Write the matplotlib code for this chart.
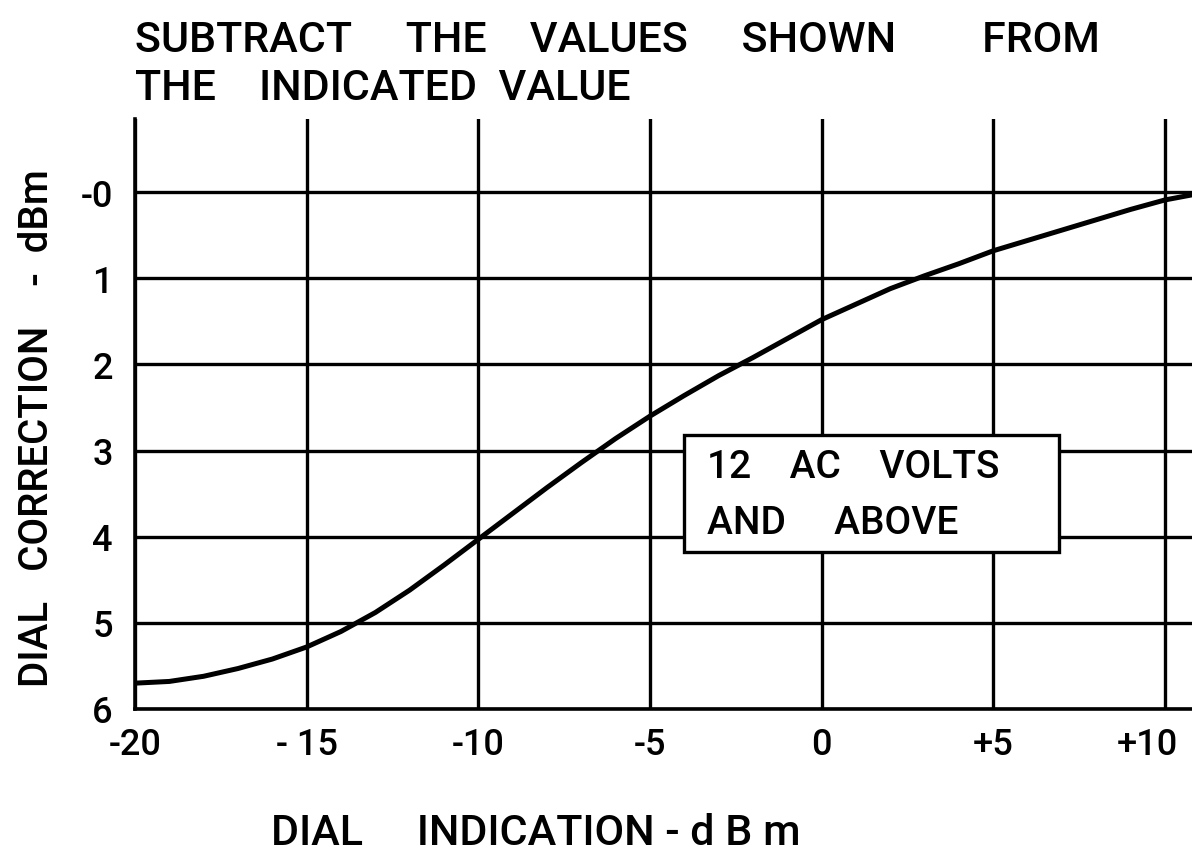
import matplotlib
matplotlib.use("Agg")
import matplotlib.pyplot as plt
from matplotlib.patches import Rectangle
from matplotlib.transforms import ScaledTranslation

# ---- data ----
dial_indication = [-20, -19, -18, -17, -16, -15, -14, -13, -12, -11, -10, -9, -8, -7, -6,
                   -5, -4, -3, -2, -1, 0, 1, 2, 3, 4, 5, 6, 7, 8, 9, 10, 10.8]
dial_correction = [5.70, 5.68, 5.62, 5.53, 5.42, 5.28, 5.10, 4.88, 4.62, 4.33, 4.03, 3.73,
                   3.43, 3.14, 2.86, 2.60, 2.36, 2.13, 1.92, 1.70, 1.48, 1.30, 1.12, 0.97,
                   0.83, 0.68, 0.56, 0.44, 0.32, 0.20, 0.09, 0.03]
x_ticks = [-20, -15, -10, -5, 0, 5, 10]
x_ticklabels = ["-20", "- 15", "-10", "-5", "0", "+5", "+10"]
y_ticks = [0, 1, 2, 3, 4, 5, 6]
y_ticklabels = ["-0", "1", "2", "3", "4", "5", "6"]
title_lines = ["SUBTRACT     THE    VALUES     SHOWN        FROM", "THE    INDICATED  VALUE"]
box_lines = ["12    AC    VOLTS", "AND     ABOVE"]
xlabel = "DIAL     INDICATION - d B m"
ylabel = "DIAL   CORRECTION    -  dBm"

plt.rcParams["font.family"] = ["Roboto", "DejaVu Sans"]
W = "medium"

fig = plt.figure(figsize=(11.92, 8.53), dpi=100)
ax = fig.add_axes([135 / 1192, 1 - 710 / 853, 1 - 135 / 1192, (710 - 120) / 853])

ax.set_xlim(-20, 10.79)
ax.set_ylim(6, -0.85)

ax.plot(dial_indication, dial_correction, color="black", lw=3.6, solid_capstyle="round", zorder=3)

ax.set_xticks(x_ticks)
ax.set_xticklabels(x_ticklabels, fontweight=W)
ax.set_yticks(y_ticks)
ax.set_yticklabels(y_ticklabels, fontweight=W)
ax.tick_params(axis="both", length=0, labelsize=26, colors="black")
ax.tick_params(axis="x", pad=13)
ax.tick_params(axis="y", pad=16)
# shift the rightmost tick label a little left so it stays inside the figure
for lab in ax.get_xticklabels():
    if lab.get_text() == "+10":
        lab.set_transform(lab.get_transform() + ScaledTranslation(-18 / 100, 0, fig.dpi_scale_trans))

for s in ["top", "right"]:
    ax.spines[s].set_visible(False)
for s in ["left", "bottom"]:
    ax.spines[s].set_linewidth(2.6)
ax.grid(True, color="black", lw=2.4)
ax.set_axisbelow(True)

# annotation box
box = Rectangle((-4.02, 2.82), 10.95, 1.36, facecolor="white", edgecolor="black", lw=2.4, zorder=4)
ax.add_patch(box)
ax.text(-3.35, 3.18, box_lines[0], fontsize=28, fontweight=W, va="center", ha="left", zorder=5)
ax.text(-3.35, 3.84, box_lines[1], fontsize=28, fontweight=W, va="center", ha="left", zorder=5)

fig.text(135 / 1192, 1 - 40 / 853, title_lines[0], fontsize=31, fontweight=W, va="center", ha="left")
fig.text(135 / 1192, 1 - 88 / 853, title_lines[1], fontsize=31, fontweight=W, va="center", ha="left")

fig.text(536 / 1192, 1 - 834 / 853, xlabel, fontsize=31, fontweight=W, va="center", ha="center")
fig.text(37 / 1192, 1 - 428 / 853, ylabel, fontsize=29, fontweight=W, va="center", ha="center", rotation=90)

fig.savefig("out.png", dpi=100, facecolor="white")
